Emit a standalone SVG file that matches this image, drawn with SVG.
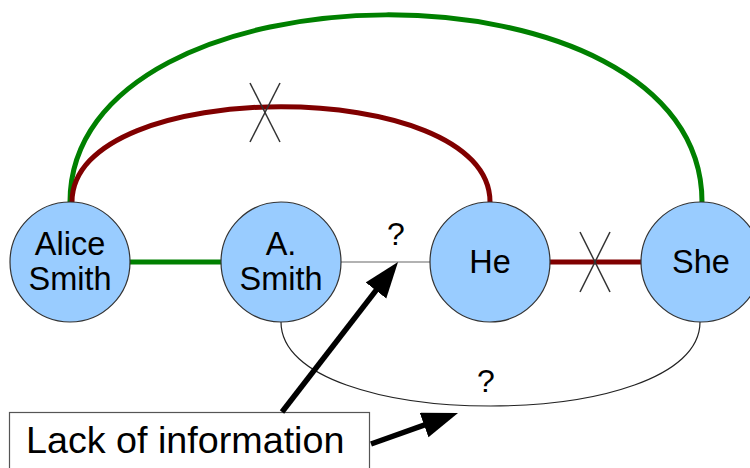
<svg xmlns="http://www.w3.org/2000/svg" width="750" height="468" viewBox="0 0 750 468">
<style>
.node{fill:#99ccff;stroke:#333;stroke-width:1.2}
.lbl{font-family:"Liberation Sans",Arial,sans-serif;font-size:32.5px;fill:#000;text-anchor:middle}
.q{font-family:"Liberation Sans",Arial,sans-serif;font-size:32px;fill:#000;text-anchor:middle}
.green{fill:none;stroke:#008000;stroke-width:5}
.red{fill:none;stroke:#800000;stroke-width:5}
.thin{fill:none;stroke:#222;stroke-width:1.2}
.gray{fill:none;stroke:#999;stroke-width:1.6}
.cross{stroke:#333;stroke-width:1.5}
.arrow{stroke:#000;stroke-width:5.5;fill:none;marker-end:url(#ah)}
</style>
<defs>
<marker id="ah" markerUnits="userSpaceOnUse" markerWidth="40" markerHeight="30" refX="26" refY="13" orient="auto">
<path d="M0,0 L36,13 L0,26 Z" fill="#000"/>
</marker>
</defs>
<rect width="750" height="468" fill="#fff"/>
<g id="connectors">
<path class="green" d="M70,202 C70,-45 702,-50 702,202"/>
<path class="red" d="M72,202 C72,75 490,75 490,202"/>
<line class="green" x1="129" y1="262" x2="222" y2="262"/>
<line class="gray" x1="341" y1="262" x2="430" y2="262"/>
<line class="red" x1="549" y1="262" x2="641" y2="262"/>
<path class="thin" d="M281,322 C281,434 700,434 700,322"/>
<line class="cross" x1="250" y1="83" x2="280" y2="142"/>
<line class="cross" x1="280" y1="83" x2="250" y2="142"/>
<line class="cross" x1="580" y1="232" x2="610" y2="292"/>
<line class="cross" x1="610" y1="232" x2="580" y2="292"/>
<text class="q" x="396" y="245">?</text>
<text class="q" x="486" y="392">?</text>
</g>
<g id="alice">
<circle class="node" cx="70" cy="262" r="60"/>
<text class="lbl" x="70" y="255">Alice</text>
<text class="lbl" x="70" y="290">Smith</text>
</g>
<g id="asmith">
<circle class="node" cx="281" cy="262" r="60"/>
<text class="lbl" x="281" y="255">A.</text>
<text class="lbl" x="281" y="290">Smith</text>
</g>
<g id="he">
<circle class="node" cx="490" cy="262" r="60"/>
<text class="lbl" x="490" y="273">He</text>
</g>
<g id="she">
<circle class="node" cx="701" cy="262" r="60"/>
<text class="lbl" x="701" y="273">She</text>
</g>
<g id="note">
<rect x="9.5" y="412.5" width="360" height="70" fill="#fff" stroke="#555" stroke-width="1.2"/>
<text x="26" y="453" font-family="Liberation Sans, Arial, sans-serif" font-size="37.7" fill="#000">Lack of information</text>
</g>
<g id="arrows">
<line class="arrow" x1="282" y1="412" x2="391.9" y2="269.9"/>
<line class="arrow" x1="371" y1="444" x2="448.6" y2="416.4"/>
</g>
</svg>
